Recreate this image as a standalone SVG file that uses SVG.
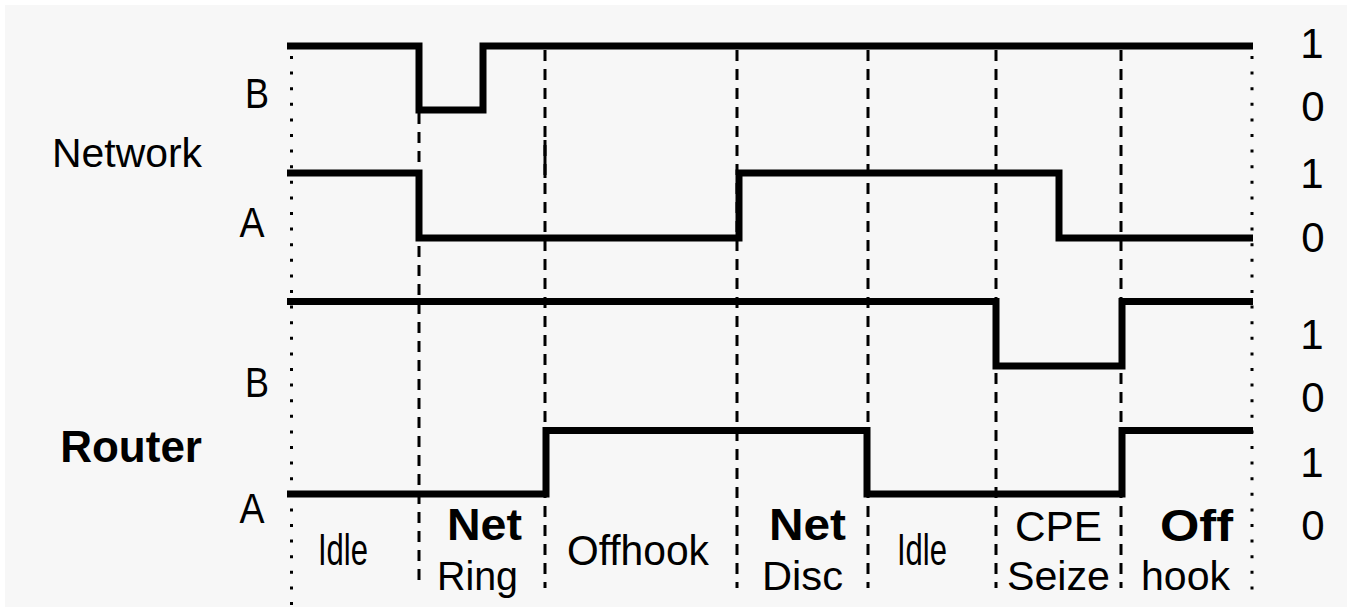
<svg xmlns="http://www.w3.org/2000/svg" width="1350" height="607" viewBox="0 0 1350 607">
<style>
.sig{fill:none;stroke:#000;stroke-width:7;stroke-linejoin:miter;stroke-linecap:butt}
.dash{stroke:#000;stroke-width:3;stroke-dasharray:11 8}
.dot{stroke:#000;stroke-width:3;stroke-dasharray:3 12.6}
text{font-family:"Liberation Sans",Arial,sans-serif;fill:#000}
.lab{font-size:40px}
.ab{font-size:42px}
.b{font-size:44px;font-weight:bold}
.num{font-size:42px;text-anchor:middle}
</style>
<rect x="0" y="0" width="1350" height="607" fill="#fff"/>
<rect x="5" y="5" width="1342" height="602" fill="#f7f7f7"/>
<g id="gridlines">
<line class="dot" x1="291.5" y1="56" x2="291.5" y2="607"/>
<line class="dot" x1="1252" y1="56" x2="1252" y2="592"/>
<line class="dash" x1="419" y1="113" x2="419" y2="588"/>
<line class="dash" x1="545" y1="50" x2="545" y2="588"/>
<line x1="545" y1="140" x2="545" y2="178" stroke="#000" stroke-width="3"/>
<line class="dash" x1="737" y1="50" x2="737" y2="588"/>
<line class="dash" x1="868" y1="50" x2="868" y2="588"/>
<line class="dash" x1="996" y1="50" x2="996" y2="588"/>
<line class="dash" x1="1121" y1="50" x2="1121" y2="588"/>
</g>
<g id="connectors">
<path id="netB" class="sig" d="M287,46 H419 V110 H483 V46 H1253"/>
<path id="netA" class="sig" d="M287,173 H419 V238 H739 V173 H1059 V238 H1253"/>
<path id="rtrB" class="sig" d="M287,301.5 H996 V366 H1122 V301.5 H1253"/>
<path id="rtrA" class="sig" d="M287,494 H546 V430.5 H867 V494 H1122 V430.5 H1253"/>
</g>
<g id="left-labels">
<text class="lab" x="202" y="167" text-anchor="end" textLength="150" lengthAdjust="spacingAndGlyphs">Network</text>
<text class="b" x="202" y="462" text-anchor="end">Router</text>
<text class="ab" x="257" y="108" text-anchor="middle" textLength="24" lengthAdjust="spacingAndGlyphs">B</text>
<text class="ab" x="252" y="237" text-anchor="middle" textLength="25" lengthAdjust="spacingAndGlyphs">A</text>
<text class="ab" x="257" y="397" text-anchor="middle" textLength="24" lengthAdjust="spacingAndGlyphs">B</text>
<text class="ab" x="252" y="523" text-anchor="middle" textLength="25" lengthAdjust="spacingAndGlyphs">A</text>
</g>
<g id="right-labels">
<text class="num" x="1312" y="58">1</text>
<text class="num" x="1313" y="121">0</text>
<text class="num" x="1312" y="188">1</text>
<text class="num" x="1313" y="252">0</text>
<text class="num" x="1312" y="349">1</text>
<text class="num" x="1313" y="412">0</text>
<text class="num" x="1312" y="477">1</text>
<text class="num" x="1313" y="540">0</text>
</g>
<g id="state-labels">
<text class="ab" x="318" y="565" style="font-size:44px" textLength="50" lengthAdjust="spacingAndGlyphs">Idle</text>
<text class="b" x="447" y="540" textLength="75" lengthAdjust="spacingAndGlyphs">Net</text>
<text class="lab" x="437" y="590" textLength="81" lengthAdjust="spacingAndGlyphs">Ring</text>
<text class="ab" x="567" y="565" textLength="142" lengthAdjust="spacingAndGlyphs">Offhook</text>
<text class="b" x="769" y="540" textLength="77" lengthAdjust="spacingAndGlyphs">Net</text>
<text class="lab" x="762" y="590" textLength="81" lengthAdjust="spacingAndGlyphs">Disc</text>
<text class="ab" x="897" y="565" style="font-size:44px" textLength="50" lengthAdjust="spacingAndGlyphs">Idle</text>
<text class="ab" x="1015" y="541" textLength="87" lengthAdjust="spacingAndGlyphs">CPE</text>
<text class="lab" x="1007" y="590" textLength="103" lengthAdjust="spacingAndGlyphs">Seize</text>
<text class="b" x="1160" y="541" textLength="73" lengthAdjust="spacingAndGlyphs">Off</text>
<text class="lab" x="1141" y="590" textLength="89" lengthAdjust="spacingAndGlyphs">hook</text>
</g>
</svg>
